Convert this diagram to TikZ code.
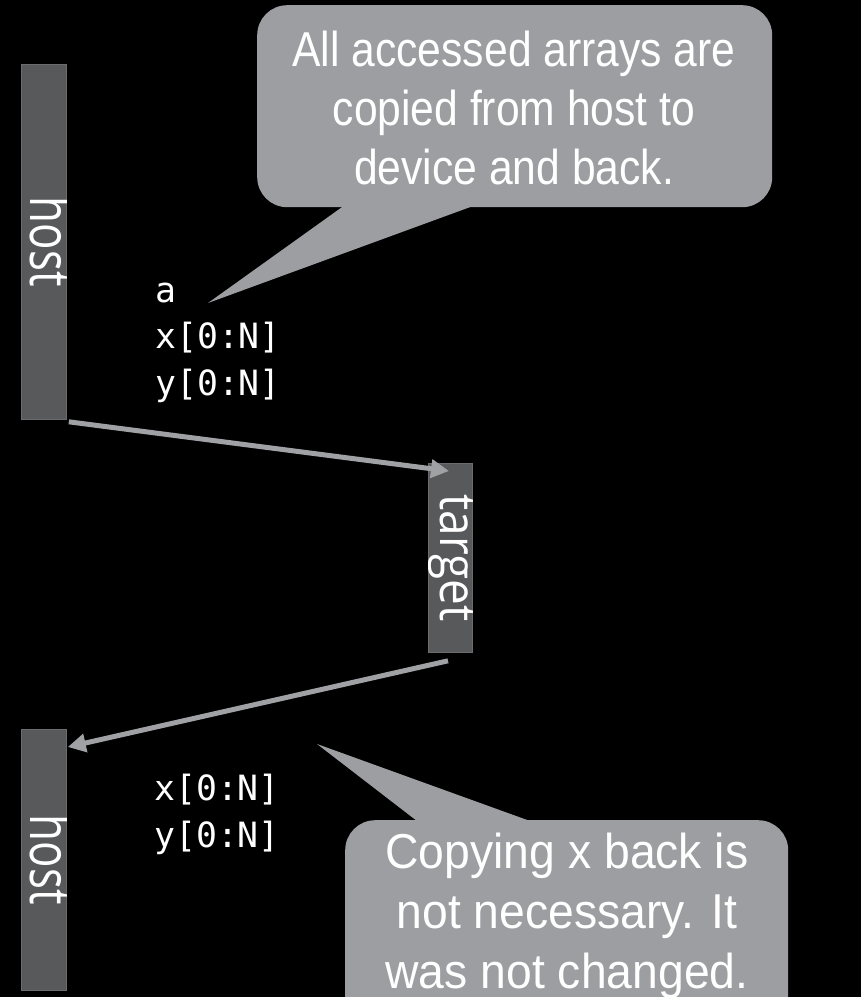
\documentclass[tikz,border=0pt]{standalone}
\usepackage{graphicx}
\usepackage{fontspec}
\setmainfont{Liberation Sans}
\newfontfamily\callfontA[FakeStretch=0.87]{Liberation Sans}
\newfontfamily\callfontB[FakeStretch=0.945]{Liberation Sans}
\newfontfamily\labelfont{Open Sans}
\newfontfamily\monofont{DejaVu Sans Mono}
\usetikzlibrary{arrows.meta,calc}
\definecolor{barc}{HTML}{58595B}
\definecolor{barline}{HTML}{6B6C6F}
\definecolor{arrowc}{HTML}{A0A1A5}
\definecolor{callc}{HTML}{9D9EA2}
\begin{document}
\begin{tikzpicture}[x=1pt,y=-1pt,
  bar/.style={fill=barc, draw=barline, line width=0.8pt, inner sep=0pt, anchor=north west},
  barlabel/.style={rotate=-90, anchor=base, text=white, inner sep=0pt},
  conn/.style={draw=arrowc, line width=5pt, -{Triangle[length=18pt,width=18pt]}},
  callbox/.style={fill=callc, rounded corners=30pt, inner sep=0pt, anchor=north west},
  calltext/.style={text=white, align=center, inner sep=0pt, anchor=base},
  code/.style={text=white, align=left, font=\monofont\fontsize{34.8}{46.5}\selectfont, inner sep=0pt, anchor=base west}
]
\fill[black] (0,0) rectangle (861,997);
\useasboundingbox (0,0) rectangle (861,997);
\clip (0,0) rectangle (861,997);

% bars
\node[bar, minimum width=45pt, minimum height=355pt] (host1) at (21,64) {};
\node[bar, minimum width=44pt, minimum height=189pt] (target) at (428,463) {};
\node[bar, minimum width=45pt, minimum height=261pt] (host2) at (21,729) {};

\begin{scope}
\clip (host1.south west) rectangle (host1.north east);
\node[barlabel, font=\labelfont\fontsize{57}{57}\selectfont] (hostlabel1) at ($(host1.center)+(-13.5,0)$) {\scalebox{0.77}[1]{host}};
\end{scope}
\begin{scope}
\clip (target.south west) rectangle (target.north east);
\node[barlabel, font=\labelfont\fontsize{51}{51}\selectfont] (targetlabel) at ($(target.center)+(-10,0)$) {\scalebox{0.9}[1]{target}};
\end{scope}
\begin{scope}
\clip (host2.south west) rectangle (host2.north east);
\node[barlabel, font=\labelfont\fontsize{57}{57}\selectfont] (hostlabel2) at ($(host2.center)+(-13.5,0)$) {\scalebox{0.77}[1]{host}};
\end{scope}

% connectors
\draw[conn] ($(host1.south east)+(2,2)$) -- ($(target.north west)+(21,8)$);
\draw[conn] ($(target.south west)+(20,8)$) -- ($(host2.north east)+(1,18)$);

% code texts (base anchor = last line)
\node[code] (vars1) at (155,395) {a\\x[0:N]\\y[0:N]};
\node[code] (vars2) at (154,847) {x[0:N]\\y[0:N]};

% callout 1
\node[callbox, minimum width=515pt, minimum height=202pt] (call1) at (257,5) {};
\coordinate (tip1) at (208,303);
\fill[callc] ($(call1.south west)+(86,-1)$) -- (tip1) -- ($(call1.south west)+(215,-1)$) -- cycle;
\node[calltext, font=\callfontA\fontsize{49}{59}\selectfont] (text1) at (514,184) {All accessed arrays are\\copied from host to\\device and back.};

% callout 2
\node[callbox, minimum width=443pt, minimum height=220pt] (call2) at (345,820) {};
\coordinate (tip2) at (317,744);
\fill[callc] ($(call2.north west)+(72,1)$) -- (tip2) -- ($(call2.north west)+(185,1)$) -- cycle;
\node[calltext, font=\callfontB\fontsize{49}{60}\selectfont] (text2) at (567,988) {Copying x back is\\not necessary. It\\was not changed.};
\end{tikzpicture}
\end{document}
